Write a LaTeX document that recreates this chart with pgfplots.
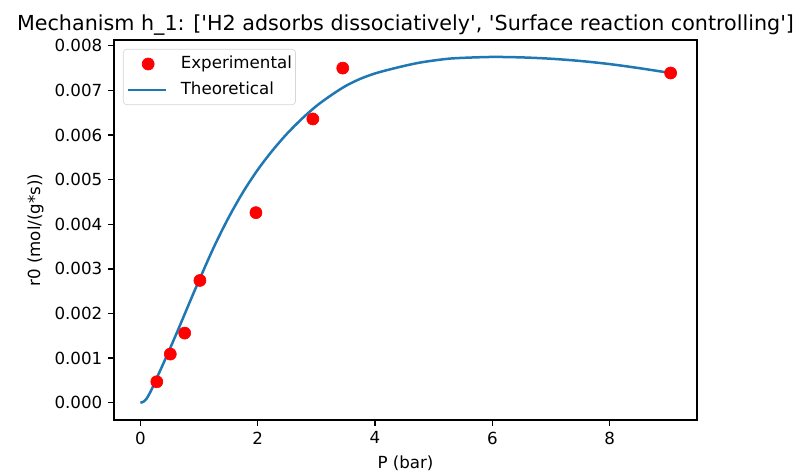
\documentclass[border=0pt]{standalone}
\usepackage{fontspec}
\setmainfont{DejaVu Sans}
\usepackage{pgfplots}
\pgfplotsset{compat=1.18}
\definecolor{mplblue}{HTML}{1F77B4}
\definecolor{legedge}{HTML}{D6D6D6}
\newcommand{\q}{\textquotesingle}
\pgfplotsset{
  markleg/.style={legend image code/.code={\draw[##1] plot coordinates {(0.42cm,0cm)}; \path (0cm,0cm) (0.8cm,0cm);}},
  lineleg/.style={legend image code/.code={\draw[##1] (0cm,0cm) -- (0.8cm,0cm);}},
}
\begin{document}
\begin{tikzpicture}
\useasboundingbox (-68.4pt,-32.4pt) rectangle (412.8pt,252pt);
\begin{axis}[
  scale only axis,
  width=349.8pt, height=228pt,
  xmin=-0.45, xmax=9.49,
  ymin=-0.000388, ymax=0.00813,
  axis line style={line width=0.8pt},
  tick align=outside,
  tick style={line width=0.8pt, black},
  major tick length=3.5pt,
  xtick={0,2,4,6,8},
  ytick={0,0.001,0.002,0.003,0.004,0.005,0.006,0.007,0.008},
  xtick pos=lower, ytick pos=left,
  scaled y ticks=false,
  /pgf/number format/assume math mode=true,
  xticklabel style={font=\fontsize{10}{12}\selectfont},
  yticklabel style={font=\fontsize{10}{12}\selectfont, /pgf/number format/.cd, fixed, fixed zerofill, precision=3},
  every axis title/.style={at={(axis description cs:0.5,1.0263)}, anchor=base, font=\fontsize{12.4}{14}\selectfont},
  every axis x label/.style={at={(axis description cs:0.5,-0.1263)}, anchor=base, font=\fontsize{10}{12}\selectfont},
  every axis y label/.style={at={(axis description cs:-0.1269,0.5)}, rotate=90, anchor=base, font=\fontsize{10}{12}\selectfont},
  title={Mechanism h\_1: [\q H2 adsorbs dissociatively\q, \q Surface reaction controlling\q]},
  xlabel={P (bar)},
  ylabel={r0 (mol/(g*s))},
  legend cell align=left,
  legend style={at={(axis description cs:0,1)}, anchor=north west, xshift=5.4pt, yshift=-5.4pt,
    draw=legedge, rounded corners=2pt, font=\fontsize{10}{12}\selectfont,
    inner xsep=2.2pt, inner ysep=3.8pt, row sep=5.6pt, column sep=8pt,
    nodes={inner sep=0pt, text height=7.6pt, text depth=2.4pt}},
]
\addplot[only marks, mark=*, mark size=3.6pt, color=red, markleg]
  coordinates {
  (0.28,0.00047) (0.51,0.00109) (0.755,0.00156) (1.015,0.00274)
  (1.97,0.00426) (2.94,0.00636) (3.45,0.00750) (9.04,0.00739)
};
\addlegendentry{Experimental\hspace{2.4pt}}
\addplot[mplblue, line width=1.5pt, smooth, no marks, lineleg]
  table {
x y
0 0
0.05 0.00002
0.1 0.00008
0.15 0.00019
0.2 0.00032
0.25 0.00047
0.375 0.00083
0.5 0.00120
0.625 0.00158
0.75 0.00197
0.875 0.00236
1.0 0.00274
1.25 0.00348
1.5 0.00414
1.75 0.00472
2.0 0.00522
2.25 0.00565
2.5 0.00603
2.75 0.00636
3.0 0.00665
3.25 0.00689
3.5 0.00710
3.75 0.00726
4.0 0.00738
4.25 0.00747
4.5 0.00755
4.75 0.00762
5.0 0.00767
5.25 0.00771
5.5 0.00773
6.0 0.00775
6.5 0.00774
7.0 0.00771
7.5 0.00766
8.0 0.00759
8.5 0.00750
9.04 0.00739
};
\addlegendentry{Theoretical}
\end{axis}
\end{tikzpicture}
\end{document}
